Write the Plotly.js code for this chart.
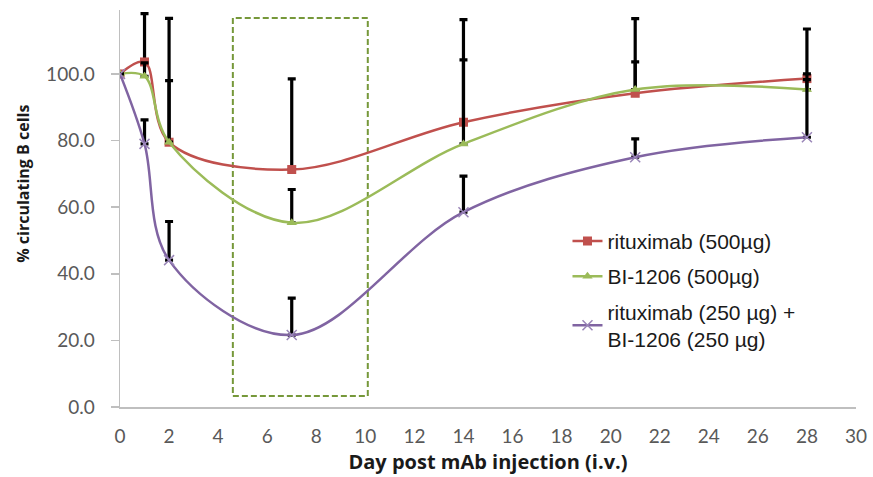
<!DOCTYPE html>
<html>
<head>
<meta charset="utf-8">
<script src="https://cdn.plot.ly/plotly-3.0.1.min.js"></script>
<style>html,body{margin:0;padding:0;background:#fff;}#chart{width:873px;height:477px;}</style>
</head>
<body>
<div id="chart"></div>
<script>
// Day post injection
const days = [0, 1, 2, 7, 14, 21, 28];

// % circulating B cells
const rituximab500 = [100, 103.6, 79.5, 71.3, 85.5, 94.2, 98.6];
const bi1206_500 = [100, 99.3, 79.5, 55.3, 79.0, 95.3, 95.3];
const combo250 = [100, 79.0, 44.1, 21.6, 58.5, 75.0, 81.0];

// upper error (plus only)
const rituximab500Err = [0, 14.5, 37.2, 27.2, 30.8, 22.4, 14.9];
const bi1206_500Err = [0, 4, 18.5, 10, 25.2, 8.3, 3];
const combo250Err = [0, 7.2, 11.6, 11.1, 10.8, 5.5, 19];

const zeros = days.map(() => 0);

// dashed highlight box (day range, % range)
const boxX = [4.6, 10.1];
const boxY = [3.3, 116.8];

const seriesNames = ['rituximab (500µg)', 'BI-1206 (500µg)', 'rituximab (250 µg) +<br>BI-1206 (250 µg)'];
const xTitle = 'Day post mAb injection (i.v.)';
const yTitle = '% circulating B cells';

const xTicks = [0, 2, 4, 6, 8, 10, 12, 14, 16, 18, 20, 22, 24, 26, 28, 30];
const yTicks = [0, 20, 40, 60, 80, 100];

function errBar(arr) {
  return {type: 'data', symmetric: false, array: arr, arrayminus: zeros,
          color: '#000000', thickness: 3.2, width: 4};
}

const traces = [
  {x: days, y: rituximab500, name: seriesNames[0], legendgroup: 'g1', mode: 'lines+markers',
   line: {color: '#C0504D', width: 2.5, shape: 'spline', smoothing: 1},
   marker: {symbol: 'square', size: 9, color: '#C0504D'},
   error_y: errBar(rituximab500Err)},
  {x: days, y: bi1206_500, name: seriesNames[1], legendgroup: 'g2', mode: 'lines+markers',
   line: {color: '#9BBB59', width: 2.5, shape: 'spline', smoothing: 1},
   marker: {symbol: 'triangle-up', size: 9, color: '#9BBB59'},
   error_y: errBar(bi1206_500Err)},
  {x: days, y: combo250, name: seriesNames[2], legendgroup: 'g3', mode: 'lines+markers',
   line: {color: '#8064A2', width: 2.5, shape: 'spline', smoothing: 1},
   marker: {symbol: 'x-thin', size: 10, color: '#8064A2', line: {color: '#9A86B8', width: 1.5}},
   error_y: errBar(combo250Err)}
];

const tickFont = {family: 'Lato, "Open Sans", sans-serif', size: 19, color: '#595959'};

const layout = {
  width: 873, height: 477,
  margin: {l: 120, r: 17, t: 10, b: 70},
  paper_bgcolor: '#ffffff', plot_bgcolor: '#ffffff',
  showlegend: true,
  legend: {x: 0.608, y: 0.469, xanchor: 'left', yanchor: 'top', traceorder: 'grouped',
           font: {family: '"Liberation Sans", Arial, sans-serif', size: 21, color: '#1a1a1a'},
           bgcolor: 'rgba(0,0,0,0)', tracegroupgap: 5, itemwidth: 30},
  xaxis: {range: [0, 30], tickvals: xTicks, ticktext: xTicks.map(String),
          showgrid: false, zeroline: false, showline: true, linecolor: '#BFBFBF', linewidth: 1.5,
          ticks: 'outside', ticklen: 12, tickcolor: 'rgba(0,0,0,0)', tickfont: tickFont,
          title: {text: '<b>' + xTitle + '</b>', standoff: 8,
                  font: {family: '"Open Sans", Lato, sans-serif', size: 20, color: '#1a1a1a'}}},
  yaxis: {range: [0, 119.2], tickvals: yTicks, ticktext: yTicks.map(v => v.toFixed(1)),
          showgrid: false, zeroline: false, showline: true, linecolor: '#BFBFBF', linewidth: 1.5,
          ticks: 'outside', ticklen: 8, tickcolor: '#BFBFBF', tickwidth: 1.5, tickfont: tickFont,
          ticklabelstandoff: 12},
  annotations: [{text: '<b>' + yTitle + '</b>', xref: 'paper', yref: 'paper', x: -0.132, y: 0.562,
                 xanchor: 'center', yanchor: 'middle', textangle: -90, showarrow: false,
                 font: {family: '"Open Sans", Lato, sans-serif', size: 16, color: '#1a1a1a'}}],
  shapes: [{type: 'rect', xref: 'x', yref: 'y', x0: boxX[0], x1: boxX[1], y0: boxY[0], y1: boxY[1],
            line: {color: '#76983A', width: 2, dash: '6px,3px'}, fillcolor: 'rgba(0,0,0,0)', layer: 'below'}]
};

Plotly.newPlot('chart', traces, layout, {displayModeBar: false, staticPlot: true});
</script>
</body>
</html>
